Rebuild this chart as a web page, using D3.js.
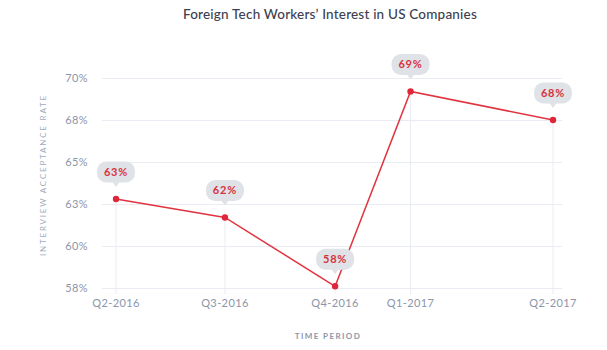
<!DOCTYPE html>
<html>
<head>
<meta charset="utf-8">
<script src="https://d3js.org/d3.v7.min.js"></script>
<style>
  body { margin: 0; background: #fff; font-family: Lato, "Open Sans", sans-serif; }
</style>
</head>
<body>
<script>
// data
var periods = ["Q2-2016", "Q3-2016", "Q4-2016", "Q1-2017", "Q2-2017"];
var dates = ["2016-04-01", "2016-07-01", "2016-10-01", "2016-12-03", "2017-04-01"];
var rates = [62.8, 61.7, 57.6, 69.2, 67.5];
var yTicks = [57.5, 60, 62.5, 65, 67.5, 70];

var width = 607, height = 350;
var plot = {left: 102, right: 562, top: 78, bottom: 288};

var parse = d3.timeParse("%Y-%m-%d");
var data = periods.map(function(p, i) {
  return {period: p, date: parse(dates[i]), rate: rates[i]};
});

var svg = d3.select("body").append("svg")
    .attr("width", width)
    .attr("height", height);

var x = d3.scaleTime()
    .domain(d3.extent(data, function(d) { return d.date; }))
    .range([plot.left + 14, plot.right - 9]);

var y = d3.scaleLinear()
    .domain([57.5, 70])
    .range([plot.bottom, plot.top]);

// title
svg.append("text")
    .attr("x", 330)
    .attr("y", 19)
    .attr("text-anchor", "middle")
    .attr("fill", "#3b4150")
    .attr("font-size", 13.5)
    .attr("font-weight", 500)
    .attr("letter-spacing", 0.2)
    .text("Foreign Tech Workers\u2019 Interest in US Companies");

// horizontal grid + y labels
var yAxis = svg.append("g")
    .attr("transform", "translate(" + plot.left + ",0)")
    .call(d3.axisLeft(y)
      .tickValues(yTicks)
      .tickSize(-(plot.right - plot.left))
      .tickPadding(14)
      .tickFormat(function(d) { return Math.round(d) + "%"; }));
yAxis.select(".domain").remove();
yAxis.selectAll("line").attr("stroke", "#e9edf3");
yAxis.selectAll("text")
    .attr("fill", "#8c95aa")
    .attr("font-size", 11)
    .attr("letter-spacing", 0.4)
    .attr("font-family", "Lato, sans-serif");

// drop lines from each point
svg.append("g").selectAll("line")
  .data(data)
  .enter().append("line")
    .attr("x1", function(d) { return x(d.date); })
    .attr("x2", function(d) { return x(d.date); })
    .attr("y1", function(d) { return y(d.rate); })
    .attr("y2", plot.bottom + 6)
    .attr("stroke", "#e9edf3");

// x labels
svg.append("g").selectAll("text")
  .data(data)
  .enter().append("text")
    .attr("x", function(d) { return x(d.date); })
    .attr("y", plot.bottom + 19)
    .attr("text-anchor", "middle")
    .attr("fill", "#8c95aa")
    .attr("font-size", 11)
    .attr("letter-spacing", 0.4)
    .text(function(d) { return d.period; });

// axis titles
svg.append("text")
    .attr("transform", "translate(46,175) rotate(-90)")
    .attr("text-anchor", "middle")
    .attr("fill", "#a3abbb")
    .attr("font-size", 8)
    .attr("letter-spacing", 1.8)
    .text("INTERVIEW ACCEPTANCE RATE");

svg.append("text")
    .attr("x", 328)
    .attr("y", 339)
    .attr("text-anchor", "middle")
    .attr("fill", "#8c95aa")
    .attr("font-size", 8)
    .attr("font-weight", 700)
    .attr("letter-spacing", 1.4)
    .text("TIME PERIOD");

// line
var line = d3.line()
    .x(function(d) { return x(d.date); })
    .y(function(d) { return y(d.rate); });

svg.append("path")
    .datum(data)
    .attr("fill", "none")
    .attr("stroke", "#e0343f")
    .attr("stroke-width", 1.5)
    .attr("d", line);

svg.append("g").selectAll("circle")
  .data(data)
  .enter().append("circle")
    .attr("cx", function(d) { return x(d.date); })
    .attr("cy", function(d) { return y(d.rate); })
    .attr("r", 3.2)
    .attr("fill", "#e0263a");

// bubbles
var bubble = svg.append("g").selectAll("g")
  .data(data)
  .enter().append("g")
    .attr("transform", function(d) {
      return "translate(" + x(d.date) + "," + (y(d.rate) - 27) + ")";
    });

bubble.append("rect")
    .attr("x", -19)
    .attr("y", -10.5)
    .attr("width", 38)
    .attr("height", 21)
    .attr("rx", 9.5)
    .attr("fill", "#dfe2e6");

bubble.append("path")
    .attr("d", "M-4,9.5 L0,15 L4,9.5 Z")
    .attr("fill", "#dfe2e6");

bubble.append("text")
    .attr("y", 4)
    .attr("text-anchor", "middle")
    .attr("fill", "#d9323f")
    .attr("font-size", 11)
    .attr("font-weight", 700)
    .attr("letter-spacing", 0.8)
    .text(function(d) { return Math.round(d.rate) + "%"; });
</script>
</body>
</html>
